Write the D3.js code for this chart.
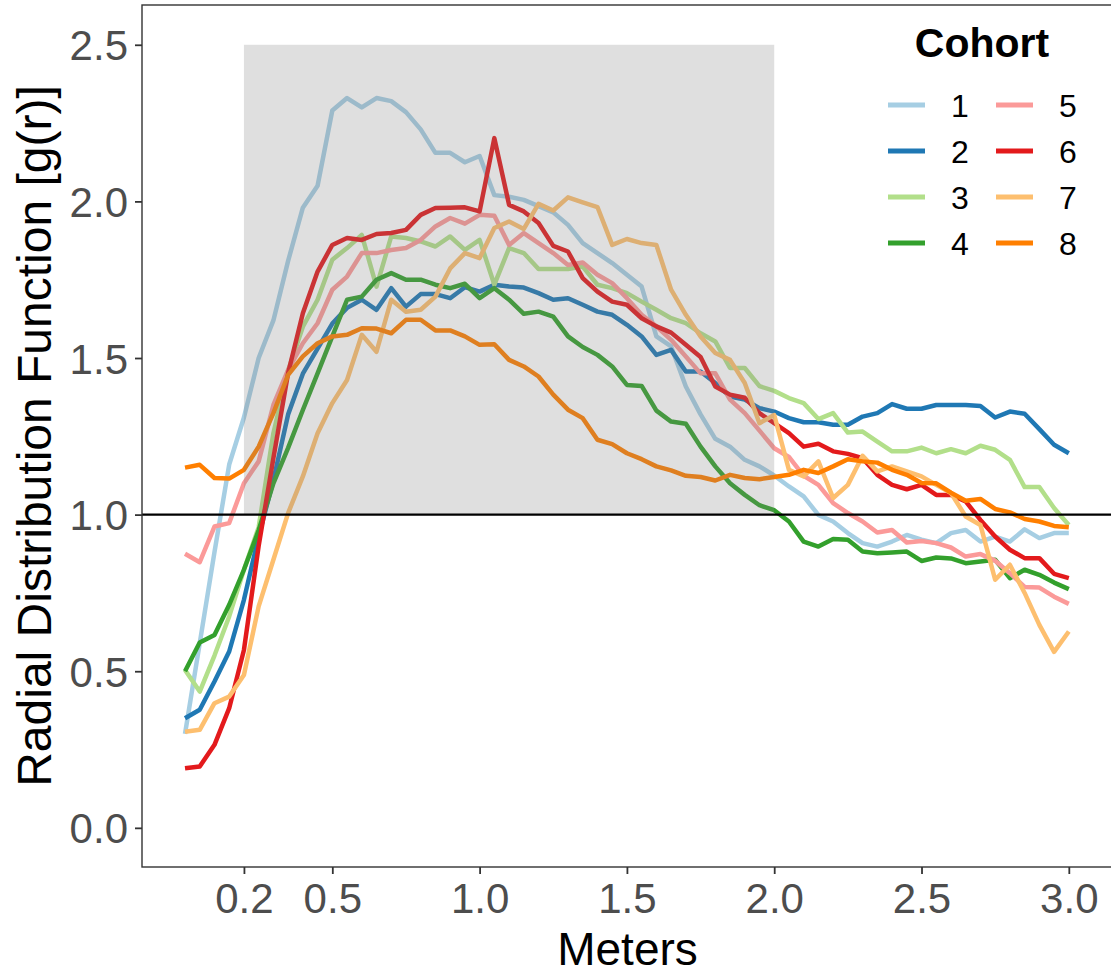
<!DOCTYPE html>
<html>
<head>
<meta charset="utf-8">
<script src="https://cdn.jsdelivr.net/npm/d3@7"></script>
<style>
  html, body { margin: 0; padding: 0; background: #ffffff; }
  svg { display: block; }
  text { font-family: "Liberation Sans", Arial, "DejaVu Sans", sans-serif; }
</style>
</head>
<body>
<svg id="chart" width="1111" height="976"></svg>
<script>
// ---------- data ----------
const distances = [0.00,0.05,0.10,0.15,0.20,0.25,0.30,0.35,0.40,0.45,
  0.50,0.55,0.60,0.65,0.70,0.75,0.80,0.85,0.90,0.95,
  1.00,1.05,1.10,1.15,1.20,1.25,1.30,1.35,1.40,1.45,
  1.50,1.55,1.60,1.65,1.70,1.75,1.80,1.85,1.90,1.95,
  2.00,2.05,2.10,2.15,2.20,2.25,2.30,2.35,2.40,2.45,
  2.50,2.55,2.60,2.65,2.70,2.75,2.80,2.85,2.90,2.95,3.00];

const cohorts = ["1","2","3","4","5","6","7","8"];
const cohortColors = ["#A6CEE3","#1F78B4","#B2DF8A","#33A02C","#FB9A99","#E31A1C","#FDBF6F","#FF7F00"];

const cohort1 = [0.30,0.59,0.88,1.16,1.31,1.50,1.62,1.81,1.98,2.05,
  2.29,2.33,2.30,2.33,2.32,2.285,2.23,2.155,2.155,2.125,
  2.145,2.02,2.015,2.005,1.985,1.965,1.925,1.867,1.835,1.803,
  1.766,1.728,1.569,1.537,1.409,1.32,1.242,1.217,1.175,1.154,
  1.125,1.09,1.058,0.999,0.978,0.941,0.909,0.898,0.914,0.935,
  0.92,0.909,0.941,0.951,0.914,0.93,0.914,0.953,0.925,0.941,0.941];
const cohort2 = [0.35,0.377,0.467,0.563,0.728,0.93,1.11,1.32,1.45,1.53,
  1.61,1.66,1.686,1.654,1.723,1.664,1.704,1.704,1.691,1.726,
  1.712,1.734,1.728,1.725,1.707,1.686,1.691,1.67,1.648,1.638,
  1.606,1.569,1.51,1.526,1.457,1.457,1.42,1.377,1.367,1.34,
  1.329,1.308,1.295,1.295,1.287,1.287,1.313,1.324,1.353,1.338,
  1.338,1.35,1.35,1.35,1.347,1.31,1.329,1.322,1.273,1.223,1.196];
const cohort3 = [0.504,0.435,0.55,0.675,0.824,0.96,1.26,1.46,1.60,1.686,
  1.814,1.851,1.893,1.728,1.888,1.883,1.872,1.856,1.888,1.845,
  1.877,1.734,1.851,1.835,1.784,1.784,1.784,1.792,1.734,1.723,
  1.707,1.68,1.654,1.627,1.611,1.579,1.553,1.468,1.468,1.41,
  1.395,1.372,1.356,1.305,1.324,1.262,1.265,1.233,1.202,1.202,
  1.214,1.196,1.209,1.196,1.22,1.207,1.175,1.088,1.088,1.021,0.967];
const cohort4 = [0.50,0.592,0.616,0.712,0.824,0.95,1.10,1.213,1.334,1.451,
  1.569,1.686,1.696,1.75,1.771,1.75,1.75,1.734,1.723,1.737,
  1.691,1.723,1.686,1.641,1.648,1.632,1.569,1.535,1.51,1.473,
  1.414,1.411,1.332,1.297,1.29,1.217,1.154,1.10,1.063,1.03,
  1.014,0.978,0.914,0.898,0.922,0.92,0.882,0.877,0.879,0.882,
  0.852,0.863,0.86,0.845,0.85,0.856,0.797,0.824,0.808,0.783,0.762];
const cohort5 = [0.875,0.848,0.962,0.973,1.10,1.17,1.35,1.462,1.547,1.611,
  1.718,1.76,1.835,1.835,1.845,1.851,1.877,1.92,1.947,1.929,
  1.957,1.954,1.861,1.899,1.867,1.835,1.797,1.805,1.766,1.739,
  1.691,1.638,1.601,1.558,1.505,1.451,1.451,1.367,1.324,1.268,
  1.212,1.184,1.124,1.095,1.037,1.005,0.978,0.943,0.951,0.911,
  0.916,0.909,0.895,0.866,0.874,0.853,0.813,0.769,0.767,0.738,0.715];
const cohort6 = [0.19,0.196,0.265,0.382,0.568,0.90,1.18,1.452,1.643,1.776,
  1.861,1.883,1.877,1.896,1.899,1.909,1.957,1.979,1.98,1.981,
  1.968,2.202,1.989,1.968,1.931,1.858,1.84,1.755,1.712,1.68,
  1.67,1.627,1.601,1.581,1.542,1.503,1.409,1.383,1.373,1.324,
  1.292,1.26,1.217,1.226,1.202,1.194,1.18,1.127,1.095,1.081,
  1.095,1.063,1.063,1.042,0.983,0.93,0.888,0.861,0.861,0.811,0.797];
const cohort7 = [0.307,0.313,0.398,0.419,0.488,0.707,0.856,1.005,1.122,1.26,
  1.356,1.43,1.574,1.52,1.686,1.648,1.654,1.696,1.786,1.835,
  1.819,1.915,1.936,1.912,1.992,1.971,2.013,1.997,1.982,1.861,
  1.88,1.867,1.861,1.718,1.638,1.569,1.516,1.494,1.42,1.292,
  1.318,1.143,1.122,1.17,1.053,1.095,1.188,1.138,1.154,1.138,
  1.122,1.095,1.069,0.994,0.967,0.792,0.84,0.75,0.648,0.562,0.627];
const cohort8 = [1.15,1.159,1.117,1.115,1.143,1.217,1.324,1.446,1.505,1.547,
  1.569,1.574,1.595,1.594,1.579,1.622,1.622,1.588,1.588,1.569,
  1.542,1.544,1.494,1.473,1.441,1.383,1.335,1.308,1.239,1.225,
  1.196,1.177,1.154,1.141,1.124,1.12,1.109,1.127,1.117,1.113,
  1.12,1.127,1.143,1.133,1.154,1.177,1.17,1.166,1.143,1.127,
  1.101,1.1,1.07,1.044,1.05,1.018,1.007,0.986,0.978,0.964,0.96];

const seriesValues = [cohort1, cohort2, cohort3, cohort4, cohort5, cohort6, cohort7, cohort8];

const xTickValues = [0.2, 0.5, 1.0, 1.5, 2.0, 2.5, 3.0];
const yTickValues = [0.0, 0.5, 1.0, 1.5, 2.0, 2.5];
const shadeX = [0.2, 2.0];
const shadeY = [1.0, 2.5];
const refLine = 1.0;

// ---------- layout ----------
const svg = d3.select("#chart");
const panel = { left: 142, top: 5, right: 1113, bottom: 867 };

const x = d3.scaleLinear().domain([-0.146, 3.15]).range([panel.left, panel.right]);
const y = d3.scaleLinear().domain([-0.125, 2.627]).range([panel.bottom, panel.top]);

svg.append("rect").attr("width", 1111).attr("height", 976).attr("fill", "#ffffff");

const plot = svg.append("g");
plot.append("defs").append("clipPath").attr("id", "clip")
  .append("rect").attr("x", panel.left).attr("y", panel.top)
  .attr("width", panel.right - panel.left).attr("height", panel.bottom - panel.top);

const lineGen = d3.line()
  .x((d, i) => x(distances[i]))
  .y(d => y(d))
  .curve(d3.curveLinear);

const linesG = plot.append("g").attr("clip-path", "url(#clip)");
seriesValues.forEach((vals, k) => {
  linesG.append("path")
    .datum(vals)
    .attr("d", lineGen)
    .attr("fill", "none")
    .attr("stroke", cohortColors[k])
    .attr("stroke-width", 4.5)
    .attr("stroke-linejoin", "round")
    .attr("stroke-linecap", "butt");
});

// translucent shaded region drawn over the lines
plot.append("rect")
  .attr("x", x(shadeX[0]))
  .attr("y", y(shadeY[1]))
  .attr("width", x(shadeX[1]) - x(shadeX[0]))
  .attr("height", y(shadeY[0]) - y(shadeY[1]))
  .attr("fill", "#7F7F7F")
  .attr("fill-opacity", 0.25);

// reference line
plot.append("line")
  .attr("x1", panel.left).attr("x2", panel.right)
  .attr("y1", y(refLine)).attr("y2", y(refLine))
  .attr("stroke", "#000000").attr("stroke-width", 2.2);

// panel border
plot.append("rect")
  .attr("x", panel.left).attr("y", panel.top)
  .attr("width", panel.right - panel.left).attr("height", panel.bottom - panel.top)
  .attr("fill", "none").attr("stroke", "#333333").attr("stroke-width", 1.4);

// ---------- axes ----------
const xAxis = d3.axisBottom(x).tickValues(xTickValues).tickFormat(d3.format(".1f")).tickSize(7).tickSizeOuter(0);
const gx = svg.append("g").attr("transform", `translate(0,${panel.bottom})`).call(xAxis);
gx.select(".domain").remove();
gx.selectAll(".tick line").attr("stroke", "#333333").attr("stroke-width", 1.8);
gx.selectAll(".tick text")
  .attr("y", 46).attr("dy", null)
  .attr("fill", "#4D4D4D")
  .style("font-size", "42px");

const yAxis = d3.axisLeft(y).tickValues(yTickValues).tickFormat(d3.format(".1f")).tickSize(7).tickPadding(7).tickSizeOuter(0);
const gy = svg.append("g").attr("transform", `translate(${panel.left},0)`).call(yAxis);
gy.select(".domain").remove();
gy.selectAll(".tick line").attr("stroke", "#333333").attr("stroke-width", 1.8);
gy.selectAll(".tick text")
  .attr("dy", "0.357em")
  .attr("fill", "#4D4D4D")
  .style("font-size", "42px");

// axis titles
svg.append("text")
  .attr("x", (panel.left + panel.right) / 2)
  .attr("y", 965)
  .attr("text-anchor", "middle")
  .attr("fill", "#000000")
  .style("font-size", "46px")
  .text("Meters");

svg.append("text")
  .attr("transform", `translate(51,${(panel.top + panel.bottom) / 2}) rotate(-90)`)
  .attr("text-anchor", "middle")
  .attr("fill", "#000000")
  .style("font-size", "48px")
  .text("Radial Distribution Function [g(r)]");

// ---------- legend ----------
const legend = svg.append("g");
legend.append("text")
  .attr("x", 982).attr("y", 57)
  .attr("text-anchor", "middle")
  .attr("fill", "#000000")
  .style("font-size", "41px")
  .style("font-weight", "bold")
  .text("Cohort");

const legendCols = [888, 996];
const legendRows = [105, 151, 197, 243];
cohorts.forEach((c, k) => {
  const col = Math.floor(k / 4), row = k % 4;
  const lx = legendCols[col], ly = legendRows[row];
  legend.append("line")
    .attr("x1", lx).attr("x2", lx + 37)
    .attr("y1", ly).attr("y2", ly)
    .attr("stroke", cohortColors[k]).attr("stroke-width", 5);
  legend.append("text")
    .attr("x", lx + 72).attr("y", ly)
    .attr("dy", "0.36em")
    .attr("text-anchor", "middle")
    .attr("fill", "#000000")
    .style("font-size", "32px")
    .text(c);
});
</script>
</body>
</html>
